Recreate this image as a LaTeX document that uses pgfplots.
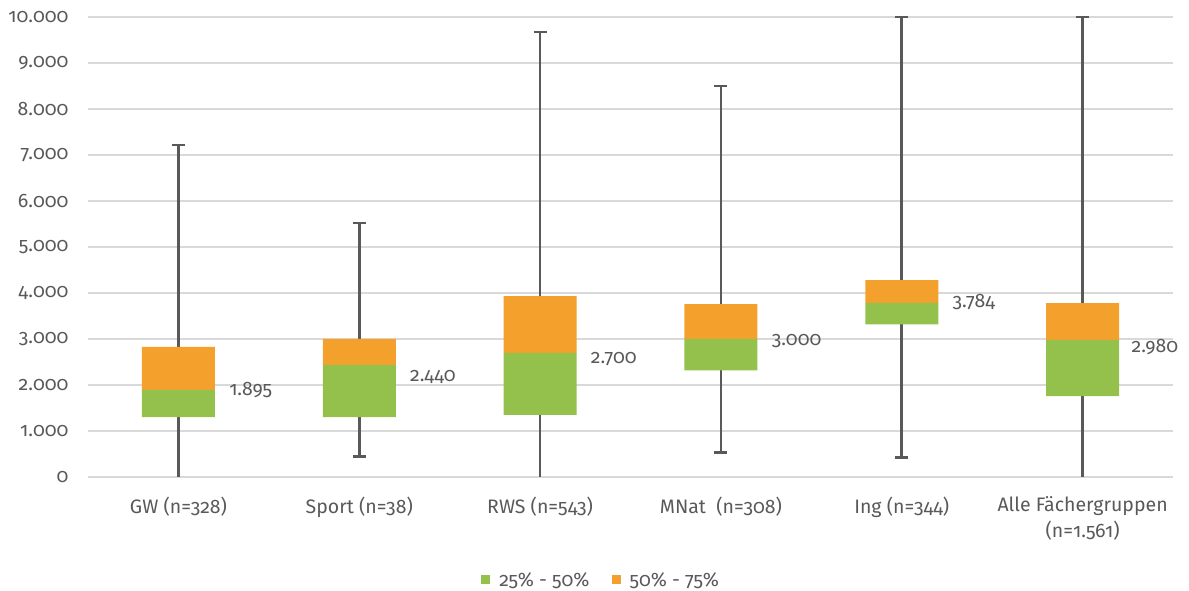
\documentclass[border=0pt]{standalone}
\usepackage{fontspec}
\setmainfont{Fira Sans}[Numbers=OldStyle]
\usepackage{pgfplots}
\usepackage{pgfplotstable}
\pgfplotsset{compat=1.18}
\definecolor{boxgreen}{RGB}{148,193,76}
\definecolor{boxorange}{RGB}{244,160,44}
\definecolor{whisk}{RGB}{89,89,89}
\definecolor{gridc}{RGB}{217,217,217}
\definecolor{txt}{RGB}{89,89,89}

% x  min  q1  med  q3  max
\pgfplotstableread{
x  mn   q1    med   q3    mx
0  0    1300  1895  2830  7220
1  450  1300  2440  3000  5520
2  0    1350  2700  3930  9670
3  530  2320  3000  3760  8500
4  420  3320  3784  4280  10000
5  0    1760  2980  3780  10000
}\datatable

\begin{document}
\begin{tikzpicture}[font=\fontsize{19.5}{23}\selectfont]
\useasboundingbox (-88pt,-114pt) rectangle (1101pt,477pt);
\pgfplotsset{common/.style={scale only axis, width=1085pt, height=460pt,
  xmin=-0.5, xmax=5.5, ymin=0, ymax=10000}}
\begin{axis}[common,
  axis line style={draw=none}, tick style={draw=none},
  ymajorgrids, grid style={gridc, line width=1.3pt},
  ytick={0,1000,...,10000}, scaled y ticks=false,
  /pgf/number format/1000 sep={.},
  /pgf/number format/assume math mode=true,
  yticklabel={\pgfmathprintnumber{\tick}},
  yticklabel style={text=txt, xshift=-16pt},
  xtick={0,...,5},
  xticklabels={GW (n=328), Sport (n=38), RWS (n=543), MNat~ (n=308), Ing (n=344), {Alle Fächergruppen\\(n=1.561)}},
  xticklabel style={text=txt, align=center, yshift=-16pt, font=\fontsize{19.5}{26}\selectfont},
]
\addplot[whisk, line width=2.6pt, unbounded coords=jump] coordinates {
 (0,0)(0,7220) (0,nan)
 (1,450)(1,5520) (1,nan)
 (2,0)(2,9670) (2,nan)
 (3,530)(3,8500) (3,nan)
 (4,420)(4,10000) (4,nan)
 (5,0)(5,10000)
};
\addplot[whisk, line width=2.6pt, unbounded coords=jump] coordinates {
 (-0.036,7220)(0.036,7220) (0,nan)
 (0.964,450)(1.036,450) (1,nan)
 (0.964,5520)(1.036,5520) (1,nan)
 (1.964,9670)(2.036,9670) (2,nan)
 (2.964,530)(3.036,530) (3,nan)
 (2.964,8500)(3.036,8500) (3,nan)
 (3.964,420)(4.036,420) (4,nan)
 (3.964,10000)(4.036,10000) (4,nan)
 (4.964,10000)(5.036,10000)
};
\end{axis}
\begin{axis}[common, hide axis, clip=false, ybar stacked, bar width=73pt,
  legend style={at={(0.473,-0.224)}, anchor=center, draw=none, fill=none,
    legend columns=2, text=txt, font=\fontsize{19.5}{23}\selectfont,
    /tikz/every odd column/.append style={column sep=7pt},
    /tikz/every even column/.append style={column sep=20pt}},
]
\addplot[draw=none, fill=none, forget plot] table[x=x, y=q1] {\datatable};
\addplot[fill=boxgreen, draw=none,
  legend image code/.code={\fill[boxgreen] (0pt,-4pt) rectangle (9pt,5pt);}]
  table[x=x, y expr=\thisrow{med}-\thisrow{q1}] {\datatable};
\addplot[fill=boxorange, draw=none,
  legend image code/.code={\fill[boxorange] (0pt,-4pt) rectangle (9pt,5pt);}]
  table[x=x, y expr=\thisrow{q3}-\thisrow{med}] {\datatable};
\legend{25\% - 50\%, 50\% - 75\%}
\node[anchor=west, inner sep=0pt, text=txt] at (axis cs:0.28,1891) {1.895};
\node[anchor=west, inner sep=0pt, text=txt] at (axis cs:1.28,2174) {2.440};
\node[anchor=west, inner sep=0pt, text=txt] at (axis cs:2.28,2565) {2.700};
\node[anchor=west, inner sep=0pt, text=txt] at (axis cs:3.28,2963) {3.000};
\node[anchor=west, inner sep=0pt, text=txt] at (axis cs:4.28,3811) {3.784};
\node[anchor=west, inner sep=0pt, text=txt] at (axis cs:5.27,2833) {2.980};
\end{axis}
\end{tikzpicture}
\end{document}
